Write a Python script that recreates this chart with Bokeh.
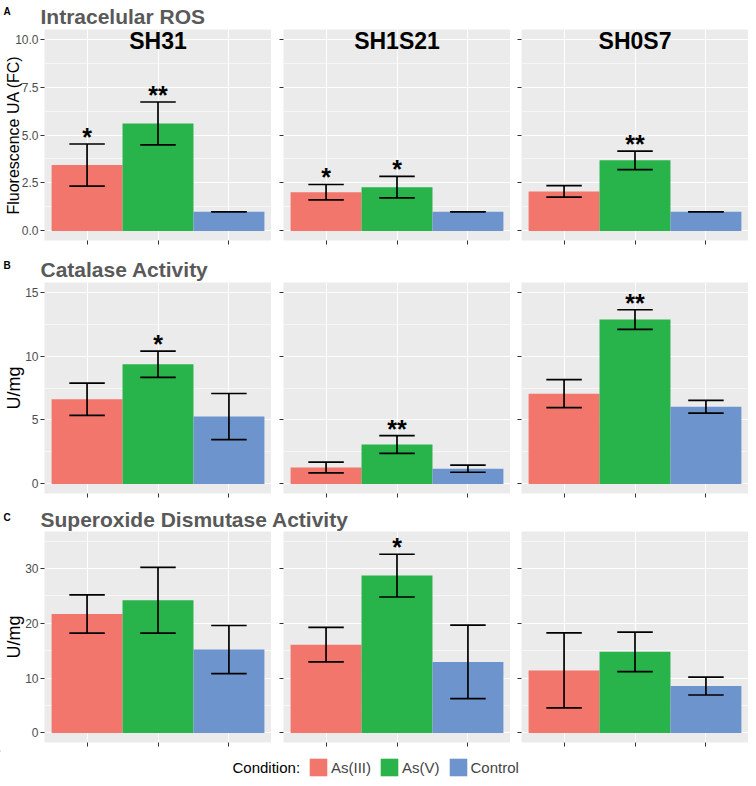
import math
from bokeh.plotting import figure
from bokeh.models import Range1d, FixedTicker, Legend, LegendItem, ColumnDataSource, NumeralTickFormatter, CustomJSTickFormatter
from bokeh.layouts import column, row
from bokeh.embed import file_html
from bokeh.resources import INLINE
from bokeh.core.properties import value

# ---------------- data ----------------
strains = ["SH31", "SH1S21", "SH0S7"]
conditions = ["As(III)", "As(V)", "Control"]
colors = ["#F3766D", "#28B34B", "#6E94CD"]
xpos = [1, 2, 3]

# A: Intracellular ROS (fold change)
ros_sh31_mean = [3.43, 5.60, 1.00]
ros_sh31_sd = [1.10, 1.12, 0.00]
ros_sh1s21_mean = [2.02, 2.28, 1.00]
ros_sh1s21_sd = [0.40, 0.56, 0.00]
ros_sh0s7_mean = [2.06, 3.68, 1.00]
ros_sh0s7_sd = [0.30, 0.48, 0.00]
ros_sh31_sig = ["*", "**", ""]
ros_sh1s21_sig = ["*", "*", ""]
ros_sh0s7_sig = ["", "**", ""]

# B: Catalase activity (U/mg)
cat_sh31_mean = [6.62, 9.36, 5.27]
cat_sh31_sd = [1.26, 1.03, 1.80]
cat_sh1s21_mean = [1.28, 3.08, 1.19]
cat_sh1s21_sd = [0.42, 0.70, 0.28]
cat_sh0s7_mean = [7.06, 12.85, 6.03]
cat_sh0s7_sd = [1.10, 0.77, 0.50]
cat_sh31_sig = ["", "*", ""]
cat_sh1s21_sig = ["", "**", ""]
cat_sh0s7_sig = ["", "**", ""]

# C: Superoxide dismutase activity (U/mg)
sod_sh31_mean = [21.7, 24.2, 15.2]
sod_sh31_sd = [3.5, 6.0, 4.4]
sod_sh1s21_mean = [16.1, 28.7, 12.95]
sod_sh1s21_sd = [3.15, 3.9, 6.7]
sod_sh0s7_mean = [11.4, 14.8, 8.55]
sod_sh0s7_sd = [6.85, 3.6, 1.63]
sod_sh31_sig = ["", "", ""]
sod_sh1s21_sig = ["", "*", ""]
sod_sh0s7_sig = ["", "", ""]

section_letters = ["A", "B", "C"]
section_titles = ["Intracelular ROS", "Catalase Activity", "Superoxide Dismutase Activity"]
y_titles = ["Fluorescence UA (FC)", "U/mg", "U/mg"]
legend_title = "Condition:"

ros_ticks = [0, 2.5, 5, 7.5, 10]
ros_minor = [1.25, 3.75, 6.25, 8.75]
cat_ticks = [0, 5, 10, 15]
cat_minor = [2.5, 7.5, 12.5]
sod_ticks = [0, 10, 20, 30]
sod_minor = [5, 15, 25, 35]

# ---------------- styling ----------------
FONT = "Liberation Sans"
FRAME_W = 227
FRAME_H = 211
LEFT_BORDERS = [44, 12, 11]
TOTAL_W = 748
EMPTY = "return ''"


def panel(col, mean, sd, sig, yrange, ticks, minor, fmt, strip_label=None,
          ytitle=None, ytitle_size="15px", ytitle_standoff=0):
    p = figure(frame_width=FRAME_W, frame_height=FRAME_H,
               x_range=Range1d(0.4, 3.6), y_range=Range1d(*yrange),
               output_backend="svg", toolbar_location=None,
               min_border_left=LEFT_BORDERS[col], min_border_right=0,
               min_border_top=0, min_border_bottom=8)
    p.background_fill_color = "#EBEBEB"
    p.border_fill_color = "white"
    p.outline_line_color = None

    lo = [m - s for m, s in zip(mean, sd)]
    hi = [m + s for m, s in zip(mean, sd)]
    src = ColumnDataSource(dict(
        x=xpos, top=mean, lo=lo, hi=hi, color=colors,
        x0=[x - 0.25 for x in xpos], x1=[x + 0.25 for x in xpos], sig=sig))
    p.vbar(x="x", top="top", bottom=0, width=1, fill_color="color", line_color=None, source=src)
    p.segment(x0="x", y0="lo", x1="x", y1="hi", line_color="black", line_width=1.7, source=src)
    p.segment(x0="x0", y0="hi", x1="x1", y1="hi", line_color="black", line_width=1.7, source=src)
    p.segment(x0="x0", y0="lo", x1="x1", y1="lo", line_color="black", line_width=1.7, source=src)
    p.text(x="x", y="hi", text="sig", text_align="center", text_baseline="alphabetic",
           y_offset=-7, text_font=value(FONT), text_font_style="bold",
           text_font_size="25px", text_color="black", source=src)

    if strip_label is not None:
        p.text(x=[2], y=[yrange[1] - (yrange[1] - yrange[0]) * 0.066], text=[strip_label],
               text_align="center", text_baseline="middle", y_offset=-2,
               text_font=value(FONT), text_font_style="bold",
               text_font_size="23px", text_color="black")

    # x axis: ticks only
    p.xaxis.ticker = FixedTicker(ticks=xpos)
    p.xaxis.formatter = CustomJSTickFormatter(code=EMPTY)
    p.xaxis.major_label_text_font_size = "1px"
    p.xaxis.major_label_standoff = 0
    p.xaxis.axis_line_color = None
    p.xaxis.major_tick_line_color = "#333333"
    p.xaxis.major_tick_out = 4
    p.xaxis.major_tick_in = 0
    p.xaxis.minor_tick_line_color = None

    p.yaxis.ticker = FixedTicker(ticks=ticks, minor_ticks=minor)
    p.yaxis.axis_line_color = None
    p.yaxis.major_tick_line_color = "#333333"
    p.yaxis.major_tick_out = 4
    p.yaxis.major_tick_in = 0
    p.yaxis.minor_tick_line_color = None
    p.yaxis.major_label_standoff = 2
    p.yaxis.major_label_text_font = FONT
    p.yaxis.major_label_text_color = "#4D4D4D"
    if col == 0:
        p.yaxis.formatter = NumeralTickFormatter(format=fmt)
        p.yaxis.major_label_text_font_size = "12px"
    else:
        p.yaxis.formatter = CustomJSTickFormatter(code=EMPTY)
        p.yaxis.major_label_text_font_size = "1px"

    p.xgrid.grid_line_color = "white"
    p.xgrid.grid_line_width = 1.1
    p.ygrid.grid_line_color = "white"
    p.ygrid.grid_line_width = 1.1
    p.ygrid.minor_grid_line_color = "white"
    p.ygrid.minor_grid_line_width = 0.55

    if ytitle is not None:
        p.yaxis.axis_label = ytitle
        p.yaxis.axis_label_text_font = FONT
        p.yaxis.axis_label_text_font_style = "normal"
        p.yaxis.axis_label_text_font_size = ytitle_size
        p.yaxis.axis_label_text_color = "black"
        p.yaxis.axis_label_standoff = ytitle_standoff
    return p


def strip(h):
    p = figure(width=TOTAL_W, height=h, x_range=Range1d(0, TOTAL_W), y_range=Range1d(h, 0),
               output_backend="svg", toolbar_location=None, min_border=0,
               x_axis_type=None, y_axis_type=None)
    p.outline_line_color = None
    p.background_fill_color = "white"
    p.border_fill_color = "white"
    return p


def heading(h, idx, letter_base, title_base):
    p = strip(h)
    p.text(x=[3], y=[letter_base], text=[section_letters[idx]], text_baseline="alphabetic",
           text_font=value(FONT), text_font_style="bold", text_font_size="10px", text_color="black")
    p.text(x=[40], y=[title_base], text=[section_titles[idx]], text_baseline="alphabetic",
           text_font=value(FONT), text_font_style="bold", text_font_size="21px", text_color="#595959")
    return p


hA = heading(29, 0, 11, 16)
rowA = row(
    panel(0, ros_sh31_mean, ros_sh31_sd, ros_sh31_sig, (-0.5, 10.5), ros_ticks, ros_minor, "0.0",
          strip_label=strains[0], ytitle=y_titles[0], ytitle_size="16px", ytitle_standoff=-10),
    panel(1, ros_sh1s21_mean, ros_sh1s21_sd, ros_sh1s21_sig, (-0.5, 10.5), ros_ticks, ros_minor, "0.0",
          strip_label=strains[1]),
    panel(2, ros_sh0s7_mean, ros_sh0s7_sd, ros_sh0s7_sig, (-0.5, 10.5), ros_ticks, ros_minor, "0.0",
          strip_label=strains[2]),
)
hB = heading(34, 1, 17, 21)
rowB = row(
    panel(0, cat_sh31_mean, cat_sh31_sd, cat_sh31_sig, (-0.75, 15.75), cat_ticks, cat_minor, "0",
          ytitle=y_titles[1], ytitle_size="18px", ytitle_standoff=-2),
    panel(1, cat_sh1s21_mean, cat_sh1s21_sd, cat_sh1s21_sig, (-0.75, 15.75), cat_ticks, cat_minor, "0"),
    panel(2, cat_sh0s7_mean, cat_sh0s7_sd, cat_sh0s7_sig, (-0.75, 15.75), cat_ticks, cat_minor, "0"),
)
hC = heading(30, 2, 16, 18)
rowC = row(
    panel(0, sod_sh31_mean, sod_sh31_sd, sod_sh31_sig, (-1.75, 36.75), sod_ticks, sod_minor, "0",
          ytitle=y_titles[2], ytitle_size="18px", ytitle_standoff=-2),
    panel(1, sod_sh1s21_mean, sod_sh1s21_sd, sod_sh1s21_sig, (-1.75, 36.75), sod_ticks, sod_minor, "0"),
    panel(2, sod_sh0s7_mean, sod_sh0s7_sd, sod_sh0s7_sig, (-1.75, 36.75), sod_ticks, sod_minor, "0"),
)

# legend strip
leg = strip(33)
leg.text(x=[232], y=[17], text=[legend_title], text_baseline="middle",
         text_font=value(FONT), text_font_size="15px", text_color="black")
items = []
for c, lab in zip(colors, conditions):
    # key-only renderer placed outside the visible strip
    r = leg.vbar(x=[-100], top=[1], width=1, fill_color=c, line_color=None)
    items.append(LegendItem(label=lab, renderers=[r]))
legend = Legend(items=items, orientation="horizontal", location=(307, 5),
                glyph_width=22, glyph_height=22, label_standoff=2, spacing=7,
                padding=0, margin=0, border_line_color=None, background_fill_alpha=0,
                label_text_font=FONT, label_text_font_size="15px", label_height=22,
                label_text_baseline="middle")
leg.add_layout(legend)

layout = column(hA, rowA, hB, rowB, hC, rowC, leg)

open("out.html", "w").write(file_html(layout, INLINE))
